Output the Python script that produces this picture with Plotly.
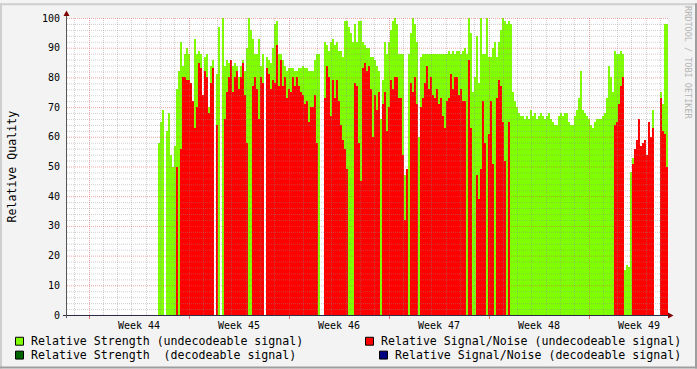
import math
import numpy as np
import plotly.graph_objects as go

# ---------------- data ----------------
week_labels = ["Week 44", "Week 45", "Week 46", "Week 47", "Week 48", "Week 49"]
y_tick_values = [0, 10, 20, 30, 40, 50, 60, 70, 80, 90, 100]

# Relative Strength (undecodeable signal), one sample every 3.36 h
strength_undecodeable = [
    None, 58, 65, 69, None, 62, 68, 54, 50, 57,
    76, 82, 92, 84, 88, 90, 88, 66, 66, 93,
    88, 89, 88, 64, 87, 88, 70, 84, 86, None,
    81, 97, None, 100, 84, 86, 85, 86, 84, 85,
    84, 80, 84, 86, 82, 90, 100, 96, 93, 88,
    88, 93, 84, 88, None, 87, 86, 85, 90, 98,
    99, 88, 88, 86, 84, 82, 83, 83, 83, 82,
    82, 83, 83, 84, 83, 83, 82, 82, 82, 86,
    88, 88, None, None, 92, 91, 89, 92, 93, 91,
    92, 89, 89, 87, 99, 99, 97, 95, 92, 98,
    92, 99, 99, 92, 91, 90, 90, 87, 87, 86,
    84, 82, 66, 79, 92, 88, 92, 96, 99, 100,
    98, 88, 88, 88, 47, 47, 88, 95, 100, 98,
    92, 60, 87, 88, 88, 88, 88, 88, 88, 88,
    88, 88, 88, 88, 88, 88, 89, 88, 89, 88,
    89, 89, 88, 89, 90, 88, 100, 95, 75, 80,
    94, 78, 100, 88, 88, 100, 87, 87, 90, 92,
    87, 92, 96, 100, 99, 98, 99, 98, 75, 72,
    70, 68, 67, 67, 66, 67, 66, 69, 67, 68,
    66, 67, 68, 67, 66, 67, 68, 66, 65, 64,
    64, 67, 68, 67, 68, 68, 65, 64, 64, 67,
    69, 73, 82, 69, 68, 67, 66, 64, 63, 65,
    66, 66, 66, 67, 68, 73, 84, 80, 75, 89,
    88, 88, 89, 88, 15, 17, 16, 48, 53, 56,
    59, 66, 57, 58, 59, 54, 65, 60, 69, None,
    None, None, 75, 71, 98, 98,
]

# Relative Signal/Noise (undecodeable signal)
snr_undecodeable = [
    None, None, None, None, None, None, None, None, None, None,
    50, None, 56, 80, 80, 79, 79, 78, 72, 63,
    70, 85, 83, 74, 82, 80, 68, 78, 83, None,
    64, None, None, None, 66, 75, 80, 86, 75, 80,
    82, 76, 80, 85, 74, 58, None, None, 77, 80,
    76, 66, 80, 78, None, 83, 81, 76, 79, 78,
    91, 77, 86, 77, 80, 73, 76, 75, 80, 77,
    80, 77, 75, 74, 71, 72, 65, 70, 70, 74,
    58, None, None, None, 73, 84, 80, 67, 79, 73,
    79, 72, 64, 59, 56, 49, None, None, None, 78,
    77, 58, 45, 83, 85, 82, 84, 76, 60, 74,
    69, 75, None, 71, 75, 62, 70, 79, 76, 80,
    80, 73, 73, 54, 32, 49, None, 78, 75, 80,
    71, None, 70, 73, 78, 84, 76, 80, 74, 73,
    76, 71, 73, 67, 63, 72, 73, 81, 76, 80,
    80, 74, 76, 72, 72, None, 86, 63, None, None,
    47, 39, 49, 72, 58, None, 61, 72, 51, None,
    73, 79, 77, 65, 52, None, 65, None, None, None,
    None, None, None, None, None, None, None, None, None, None,
    None, None, None, None, None, None, None, None, None, None,
    None, None, None, None, None, None, None, None, None, None,
    None, None, None, None, None, None, None, None, None, None,
    None, None, None, None, None, None, None, None, None, 64,
    65, 71, 77, 80, None, None, None, None, 51, 56,
    59, 66, 57, 58, 59, 54, 65, 60, 63, None,
    None, None, 73, 62, 61, 50,
]

# the decodeable-signal series never carry a value in this period
strength_decodeable = [None] * len(strength_undecodeable)
snr_decodeable = [None] * len(snr_undecodeable)

# ---------------- time axis ----------------
HOURS_PER_PX = 1.68                  # 100 px per week
FIRST_SAMPLE_HOUR = 151.2            # first sample (hours from chart start)
STEP_HOURS = 3.36
WEEK_START_HOUR = 37.0               # first Monday 00:00 after chart start
SPAN_HOURS = 601 * HOURS_PER_PX

n = len(strength_undecodeable)
sample_hours = FIRST_SAMPLE_HOUR + STEP_HOURS * np.arange(n)

PL, PT, PW, PH = 67, 15, 601, 300   # plot area in pixels


def px(xp):
    return (xp - PL) / PW


def py(yp):
    return (PT + PH - yp) / PH


def snap_hour(h):
    p = PL + h / HOURS_PER_PX
    pc = math.floor(p) + 0.5
    return (pc - PL) * HOURS_PER_PX


LIME = "#7FFF00"
RED = "#FF0000"
DKGREEN = "#006400"
NAVY = "#000080"
MONO = "DejaVu Sans Mono"

fig = go.Figure()
for vals, col in [(strength_undecodeable, LIME), (strength_decodeable, DKGREEN),
                  (snr_undecodeable, RED), (snr_decodeable, NAVY)]:
    fig.add_trace(go.Bar(x=sample_hours, y=vals, width=STEP_HOURS,
                         marker=dict(color=col, line=dict(width=0)),
                         hoverinfo="skip"))

shapes = []
# grid (drawn over the data like rrdtool)
minor_col = "rgba(140,140,140,0.42)"
major_col = "rgba(222,80,80,0.5)"
h = WEEK_START_HOUR - 24
while h < SPAN_HOURS:
    if h > 0:
        is_major = abs(((h - WEEK_START_HOUR) % 168)) < 1e-6
        xs = snap_hour(h)
        shapes.append(dict(type="line", xref="x", yref="y", x0=xs, x1=xs, y0=0, y1=100,
                           layer="above",
                           line=dict(color=major_col if is_major else minor_col,
                                     width=1, dash="1px,1px")))
        if is_major:
            shapes.append(dict(type="line", xref="x", yref="paper", x0=xs, x1=xs,
                               y0=py(316), y1=py(319), layer="above",
                               line=dict(color="rgba(222,80,80,0.8)", width=1)))
    h += 24
for v in range(2, 101, 2):
    yv = v - 1.0 / 6
    shapes.append(dict(type="line", xref="paper", yref="y", x0=px(67), x1=px(668),
                       y0=yv, y1=yv, layer="above",
                       line=dict(color=major_col if v % 10 == 0 else minor_col,
                                 width=1, dash="1px,1px")))

# axes lines
AXIS_COL = "#2A2A44"
shapes.append(dict(type="line", xref="paper", yref="paper", x0=px(63), x1=px(669),
                   y0=py(315.5), y1=py(315.5), layer="above", line=dict(color=AXIS_COL, width=1)))
shapes.append(dict(type="line", xref="paper", yref="paper", x0=px(66.5), x1=px(66.5),
                   y0=py(318), y1=py(11), layer="above", line=dict(color="#555555", width=1)))
# arrows
ARROW = "#7F0000"
shapes.append(dict(type="path", xref="paper", yref="paper", layer="above",
                   path=f"M {px(63.5)},{py(13)} L {px(69.5)},{py(13)} L {px(66.5)},{py(7.5)} Z",
                   fillcolor=ARROW, line=dict(width=0)))
shapes.append(dict(type="path", xref="paper", yref="paper", layer="above",
                   path=f"M {px(668)},{py(312.5)} L {px(668)},{py(318.5)} L {px(673.5)},{py(315.5)} Z",
                   fillcolor=ARROW, line=dict(width=0)))

# 3D frame of the image
for (x0, y0, x1, y1, c) in [(0, 0, 697, 2, "#CFCFCF"), (0, 0, 2, 369, "#CFCFCF"),
                            (0, 367, 697, 369, "#9E9E9E"), (695, 0, 697, 369, "#9E9E9E")]:
    shapes.append(dict(type="rect", xref="paper", yref="paper", x0=px(x0), x1=px(x1),
                       y0=py(y0), y1=py(y1), fillcolor=c, line=dict(width=0), layer="above"))

# legend
legend_items = [
    (15, 337, LIME, "Relative Strength (undecodeable signal)", 30, 341),
    (15, 351, DKGREEN, "Relative Strength  (decodeable signal)", 30, 355),
    (365, 337, RED, "Relative Signal/Noise (undecodeable signal)", 380, 341),
    (379, 351, NAVY, "Relative Signal/Noise (decodeable signal)", 394, 355),
]
annotations = []
for bx, by, col, label, tx, ty in legend_items:
    shapes.append(dict(type="rect", xref="paper", yref="paper",
                       x0=px(bx + 0.5), x1=px(bx + 8.5), y0=py(by + 0.5), y1=py(by + 8.5),
                       fillcolor=col, line=dict(color="black", width=1), layer="above"))
    annotations.append(dict(xref="paper", yref="paper", x=px(tx), y=py(ty), text=label.replace(" ", "&nbsp;"),
                            showarrow=False, xanchor="left", yanchor="middle", borderpad=0,
                            font=dict(family=MONO, size=11.6, color="black")))

annotations.append(dict(xref="paper", yref="paper", x=px(11), y=py(165), text="Relative Quality",
                        textangle=-90, showarrow=False, xanchor="center", yanchor="middle",
                        font=dict(family=MONO, size=11.6, color="black")))
annotations.append(dict(xref="paper", yref="paper", x=px(688.5), y=py(60), text="RRDTOOL / TOBI OETIKER",
                        textangle=90, showarrow=False, xanchor="center", yanchor="middle",
                        font=dict(family=MONO, size=8.5, color="#B4B4B4")))

fig.update_layout(
    width=697, height=369,
    margin=dict(l=PL, r=697 - PL - PW, t=PT, b=369 - PT - PH),
    paper_bgcolor="#F3F3F3", plot_bgcolor="#FFFFFF",
    barmode="overlay", bargap=0, showlegend=False,
    shapes=shapes, annotations=annotations,
    xaxis=dict(range=[0, SPAN_HOURS], showgrid=False, zeroline=False, showline=False,
               tickmode="array",
               tickvals=[WEEK_START_HOUR + 84 + 168 * k for k in range(len(week_labels))],
               ticktext=week_labels, ticks="", ticklabelstandoff=3,
               tickfont=dict(family=MONO, size=10, color="black")),
    yaxis=dict(range=[0, 100], showgrid=False, zeroline=False, showline=False,
               tickmode="array", tickvals=y_tick_values,
               ticktext=[str(v) for v in y_tick_values], ticks="", ticklabelstandoff=6,
               tickfont=dict(family=MONO, size=10, color="black")),
)

fig.write_html("out.html")
